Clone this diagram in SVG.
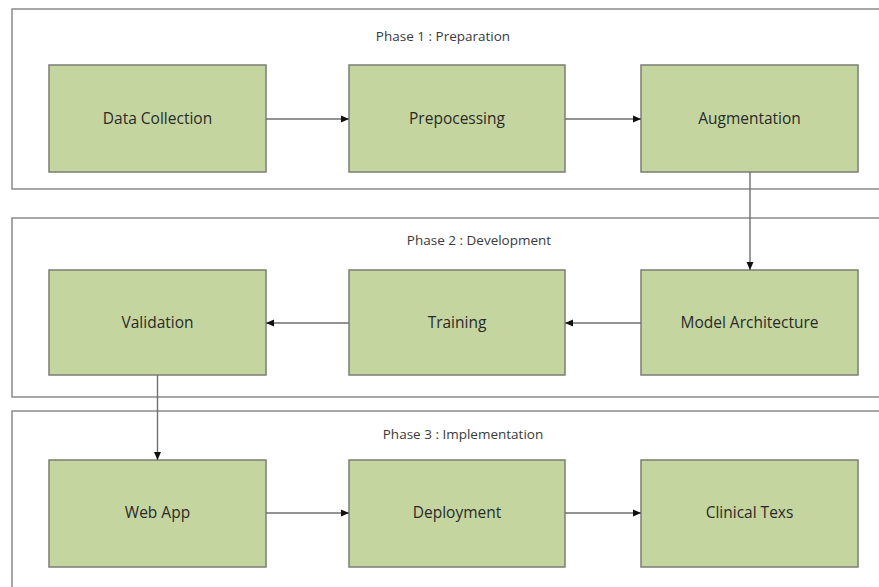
<svg xmlns="http://www.w3.org/2000/svg" width="879" height="587" viewBox="0 0 879 587">
  <style>
    .phase { fill: #ffffff; stroke: #8a8a8a; stroke-width: 1.5; }
    .phase-label { font-family: "Open Sans", "Liberation Sans", sans-serif; font-size: 13.5px; fill: #3a3a3a; text-anchor: middle; }
    .box { fill: #c4d59f; stroke: #7b7d74; stroke-width: 1.5; }
    .label { font-family: "Open Sans", "Liberation Sans", sans-serif; font-size: 15.5px; fill: #2a2a2a; text-anchor: middle; }
    .link { fill: none; stroke: #6f6f6f; stroke-width: 1.4; marker-end: url(#arrow); }
  </style>
  <defs>
    <marker id="arrow" markerUnits="userSpaceOnUse" markerWidth="9" markerHeight="8" refX="8" refY="4" orient="auto">
      <path d="M0,0.5 L8,4 L0,7.5 Z" fill="#111111"/>
    </marker>
  </defs>

  <rect width="879" height="587" fill="#ffffff"/>

  <!-- phase containers (open to the right edge) -->
  <g id="phase1">
    <rect class="phase" x="12" y="9" width="880" height="180"/>
    <text class="phase-label" x="443" y="40.5">Phase 1 : Preparation</text>
  </g>
  <g id="phase2">
    <rect class="phase" x="12" y="218" width="880" height="179"/>
    <text class="phase-label" x="479" y="244.5">Phase 2 : Development</text>
  </g>
  <g id="phase3">
    <rect class="phase" x="12" y="411" width="880" height="200"/>
    <text class="phase-label" x="463" y="438.5">Phase 3 : Implementation</text>
  </g>

  <!-- process steps -->
  <g id="data-collection">
    <rect class="box" x="49" y="65" width="217" height="107"/>
    <text class="label" x="157.5" y="124">Data Collection</text>
  </g>
  <g id="prepocessing">
    <rect class="box" x="349" y="65" width="216" height="107"/>
    <text class="label" x="457" y="124">Prepocessing</text>
  </g>
  <g id="augmentation">
    <rect class="box" x="641" y="65" width="217" height="107"/>
    <text class="label" x="749.5" y="124">Augmentation</text>
  </g>
  <g id="validation">
    <rect class="box" x="49" y="270" width="217" height="105"/>
    <text class="label" x="157.5" y="328">Validation</text>
  </g>
  <g id="training">
    <rect class="box" x="349" y="270" width="216" height="105"/>
    <text class="label" x="457" y="328">Training</text>
  </g>
  <g id="model-architecture">
    <rect class="box" x="641" y="270" width="217" height="105"/>
    <text class="label" x="749.5" y="328">Model Architecture</text>
  </g>
  <g id="web-app">
    <rect class="box" x="49" y="460" width="217" height="107"/>
    <text class="label" x="157.5" y="518">Web App</text>
  </g>
  <g id="deployment">
    <rect class="box" x="349" y="460" width="216" height="107"/>
    <text class="label" x="457" y="518">Deployment</text>
  </g>
  <g id="clinical-texs">
    <rect class="box" x="641" y="460" width="217" height="107"/>
    <text class="label" x="749.5" y="518">Clinical Texs</text>
  </g>

  <!-- connectors -->
  <g id="connectors">
    <line class="link" x1="266" y1="119" x2="349" y2="119"/>
    <line class="link" x1="565" y1="119" x2="641" y2="119"/>
    <line class="link" x1="750" y1="172" x2="750" y2="270"/>
    <line class="link" x1="641" y1="323" x2="565" y2="323"/>
    <line class="link" x1="349" y1="323" x2="266" y2="323"/>
    <line class="link" x1="157.5" y1="375" x2="157.5" y2="460"/>
    <line class="link" x1="266" y1="513" x2="349" y2="513"/>
    <line class="link" x1="565" y1="513" x2="641" y2="513"/>
  </g>
</svg>
